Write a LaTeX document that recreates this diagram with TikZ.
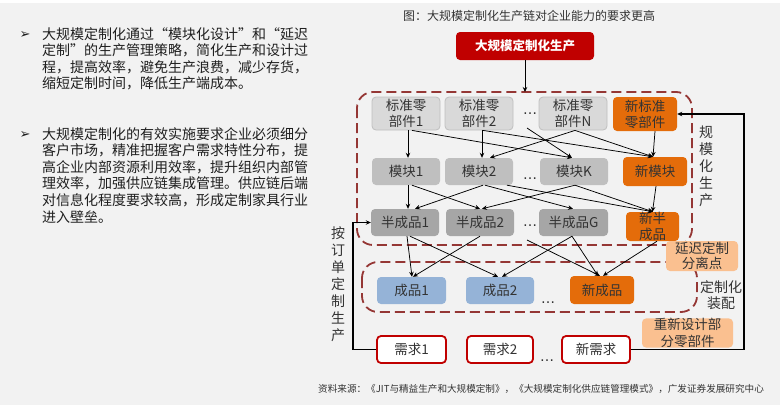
\documentclass[tikz,border=0pt]{standalone}
\usepackage{fontspec}
\setmainfont{Noto Sans CJK SC}
\newfontfamily\dejavu{DejaVu Sans}
\usetikzlibrary{arrows.meta}
\XeTeXlinebreaklocale "zh"
\XeTeXlinebreakskip=0pt plus 3pt minus 0.5pt
\definecolor{bg}{HTML}{F2F2F2}
\definecolor{txt}{HTML}{333333}
\definecolor{dark}{HTML}{1F1F1F}
\definecolor{gA}{HTML}{D9D9D9}
\definecolor{gB}{HTML}{BFBFBF}
\definecolor{gC}{HTML}{A6A6A6}
\definecolor{orgc}{HTML}{E46C0A}
\definecolor{lorgc}{HTML}{FAC090}
\definecolor{bluc}{HTML}{95B3D7}
\definecolor{reqc}{HTML}{C00000}
\definecolor{regc}{HTML}{953735}
\tikzset{
  bx/.style={rounded corners=4pt, inner sep=0pt, align=center, text=txt, font=\fontsize{13.5}{16}\selectfont},
  gone/.style={bx, fill=gA, draw=gB, line width=0.8pt},
  gtwo/.style={bx, fill=gB},
  gthree/.style={bx, fill=gC},
  org/.style={bx, fill=orgc},
  lorg/.style={bx, fill=lorgc},
  blu/.style={bx, fill=bluc},
  req/.style={bx, fill=white, draw=reqc, line width=1.8pt},
  ar/.style={-{Stealth[length=5pt,width=4.5pt]}, line width=0.75pt, draw=black},
  reg/.style={dash pattern=on 10pt off 5pt, line width=1.8pt, draw=regc, rounded corners=16pt},
  dots/.style={font=\dejavu\fontsize{14}{14}\selectfont, text=txt, inner sep=0pt, anchor=base},
  vlab/.style={align=center, text=txt, inner sep=0pt, font=\fontsize{14}{17}\selectfont},
  para/.style={anchor=north west, inner sep=0pt, text width=266pt, align=justify, text=dark, font=\fontsize{14}{16.6}\selectfont},
  bul/.style={font=\dejavu\fontsize{13}{13}\selectfont, text=dark, inner sep=0pt},
}
\begin{document}
\begin{tikzpicture}[x=1pt,y=-1pt]
\useasboundingbox (0,0) rectangle (780,405);
\fill[bg] (0,0) rectangle (780,405);
\fill[white] (0,0) rectangle (780,3);

% left text
\node[bul] (b1) at (25,35) {➢};
\node[bul] (b2) at (25,135) {➢};
\node[para] (t1) at (42,27) {大规模定制化通过“模块化设计”和“延迟\linebreak 定制”的生产管理策略，简化生产和设计过\linebreak 程，提高效率，避免生产浪费，减少存货，\linebreak 缩短定制时间，降低生产端成本。};
\node[para] (t2) at (42,127) {大规模定制化的有效实施要求企业必须细分\linebreak 客户市场，精准把握客户需求特性分布，提\linebreak 高企业内部资源利用效率，提升组织内部管\linebreak 理效率，加强供应链集成管理。供应链后端\linebreak 对信息化程度要求较高，形成定制家具行业\linebreak 进入壁垒。};

% title
\node[text=txt, font=\fontsize{12}{14}\selectfont, inner sep=0pt] (title) at (529,16) {图：大规模定制化生产链对企业能力的要求更高};

% regions
\draw[reg] (357,92) rectangle (692,245);
\draw[reg] (362,262) rectangle (697,312);

% top box
\node[bx, fill=reqc, text=white, font=\bfseries\fontsize{12.5}{15}\selectfont, minimum width=138pt, minimum height=28pt] (top) at (525,46) {大规模定制化生产};
\coordinate (regtop) at (525,92);

% row 1
\node[gone, minimum width=68pt, minimum height=33pt] (p1) at (406,113.5) {标准零\\部件1};
\node[gone, minimum width=68pt, minimum height=33pt] (p2) at (479,113.5) {标准零\\部件2};
\node[gone, minimum width=68pt, minimum height=33pt] (pN) at (573,113.5) {标准零\\部件N};
\node[org, minimum width=64pt, minimum height=34pt] (pNew) at (645,114) {新标准\\零部件};
\node[dots] (d1t) at (530,114.5) {…};
% row 2
\node[gtwo, minimum width=68pt, minimum height=27pt] (m1) at (406,171.5) {模块1};
\node[gtwo, minimum width=68pt, minimum height=27pt] (m2) at (479,171.5) {模块2};
\node[gtwo, minimum width=68pt, minimum height=27pt] (mK) at (574,171.5) {模块K};
\node[org, minimum width=64pt, minimum height=29pt] (mNew) at (655,171.5) {新模块};
\node[dots] (d2t) at (530,179.5) {…};
% row 3
\node[gthree, minimum width=68pt, minimum height=27pt] (s1) at (405,222.5) {半成品1};
\node[gthree, minimum width=68pt, minimum height=27pt] (s2) at (480,222.5) {半成品2};
\node[gthree, minimum width=69pt, minimum height=27pt] (sG) at (573.5,222.5) {半成品G};
\node[org, minimum width=53pt, minimum height=29pt] (sNew) at (652.5,226.5) {新半\\成品};
\node[dots] (d3t) at (530,226.5) {…};
% row 4
\node[blu, minimum width=69pt, minimum height=27pt] (f1) at (411.5,290.5) {成品1};
\node[blu, minimum width=68pt, minimum height=27pt] (f2) at (500,290.5) {成品2};
\node[org, minimum width=64pt, minimum height=28pt] (fNew) at (602,290) {新成品};
\node[dots] (d4t) at (548,303.5) {…};
% row 5
\node[req, minimum width=69pt, minimum height=27pt] (r1) at (411.5,349.5) {需求1};
\node[req, minimum width=66pt, minimum height=27pt] (r2) at (500,349.5) {需求2};
\node[req, minimum width=68pt, minimum height=27pt] (rNew) at (596,349.5) {新需求};
\node[dots] (d5t) at (547,361.5) {…};

% side boxes
\node[lorg, minimum width=72pt, minimum height=30pt, font=\fontsize{13.5}{15}\selectfont] (delay) at (702,256) {延迟定制\\分离点};
\node[lorg, minimum width=91pt, minimum height=28pt, font=\fontsize{13.5}{16.5}\selectfont] (redes) at (687.5,333) {重新设计部\\分零部件};

% vertical labels
\node[vlab] (lab1) at (706,166.5) {规\\模\\化\\生\\产};
\node[vlab] (lab2) at (338,284) {按\\订\\单\\定\\制\\生\\产};
\node[vlab, font=\fontsize{14}{16}\selectfont] (lab3) at (721,295) {定制化\\装配};

% arrows
\draw[ar] (top.south) -- (regtop);
\coordinate (d1) at (527,128);
\coordinate (d3) at (527,240);
% row1 -> row2
\draw[ar] ([xshift=2pt]p1.south) -- ([xshift=2pt]m1.north);
\draw[ar] ([xshift=6pt]p1.south) -- ([xshift=-2pt]mK.north);
\draw[ar] ([xshift=3pt]p2.south) -- ([xshift=3pt]m2.north);
\draw[ar] ([xshift=4pt]p2.south) -- ([xshift=-2pt]mNew.north);
\draw[ar] ([xshift=2pt]pN.south) -- ([xshift=11pt]m2.north);
\draw[ar] (d1) -- ([xshift=-2pt]mK.north);
\draw[ar] ([xshift=2pt]pN.south) -- ([xshift=-2pt]mNew.north);
\draw[ar] ([xshift=10pt]pNew.south) -- ([xshift=-2pt]mNew.north);
% row2 -> row3
\draw[ar] ([xshift=2pt]m1.south) -- ([xshift=3pt]s1.north);
\draw[ar] ([xshift=6pt]m1.south) -- ([xshift=0pt]s2.north);
\draw[ar] ([xshift=4pt]m2.south) -- ([xshift=10pt]s1.north);
\draw[ar] ([xshift=6pt]m2.south) -- ([xshift=-0.5pt]sG.north);
\draw[ar] ([xshift=28pt]m2.south) -- ([xshift=0.5pt]sNew.north);
\draw[ar] ([xshift=1pt]mK.south) -- ([xshift=2pt]s2.north);
\draw[ar] ([xshift=1pt]mK.south) -- ([xshift=0.5pt]sNew.north);
\draw[ar] ([xshift=1pt]mNew.south) -- ([xshift=0pt]sNew.north);
% row3 -> row4
\draw[ar] ([xshift=2pt]s1.south) -- ([xshift=0.5pt]f1.north);
\draw[ar] ([xshift=5pt]s1.south) -- ([xshift=-2pt]f2.north);
\draw[ar] (s2.south) -- ([xshift=1.5pt]f1.north);
\draw[ar] (d3) -- ([xshift=-2pt]fNew.north);
\draw[ar] ([xshift=-1.5pt]sG.south) -- ([xshift=2pt]f2.north);
\draw[ar] ([xshift=-1.5pt]sG.south) -- ([xshift=-4pt]fNew.north);
\draw[ar] ([xshift=4.5pt]sNew.south) -- ([xshift=1pt]fNew.north);
% feedback
\draw[ar, line width=1.3pt] (r1.west) -- ++(-23,0) |- (s1.west);
\draw[ar, line width=1.3pt] (rNew.east) -- ++(113,0) |- (pNew.east);

% footer
\node[anchor=west, inner sep=0pt, text=txt, font=\fontsize{9.6}{11}\selectfont] (foot) at (318,389) {资料来源：《JIT与精益生产和大规模定制》，《大规模定制化供应链管理模式》，广发证券发展研究中心};
\end{tikzpicture}
\end{document}
